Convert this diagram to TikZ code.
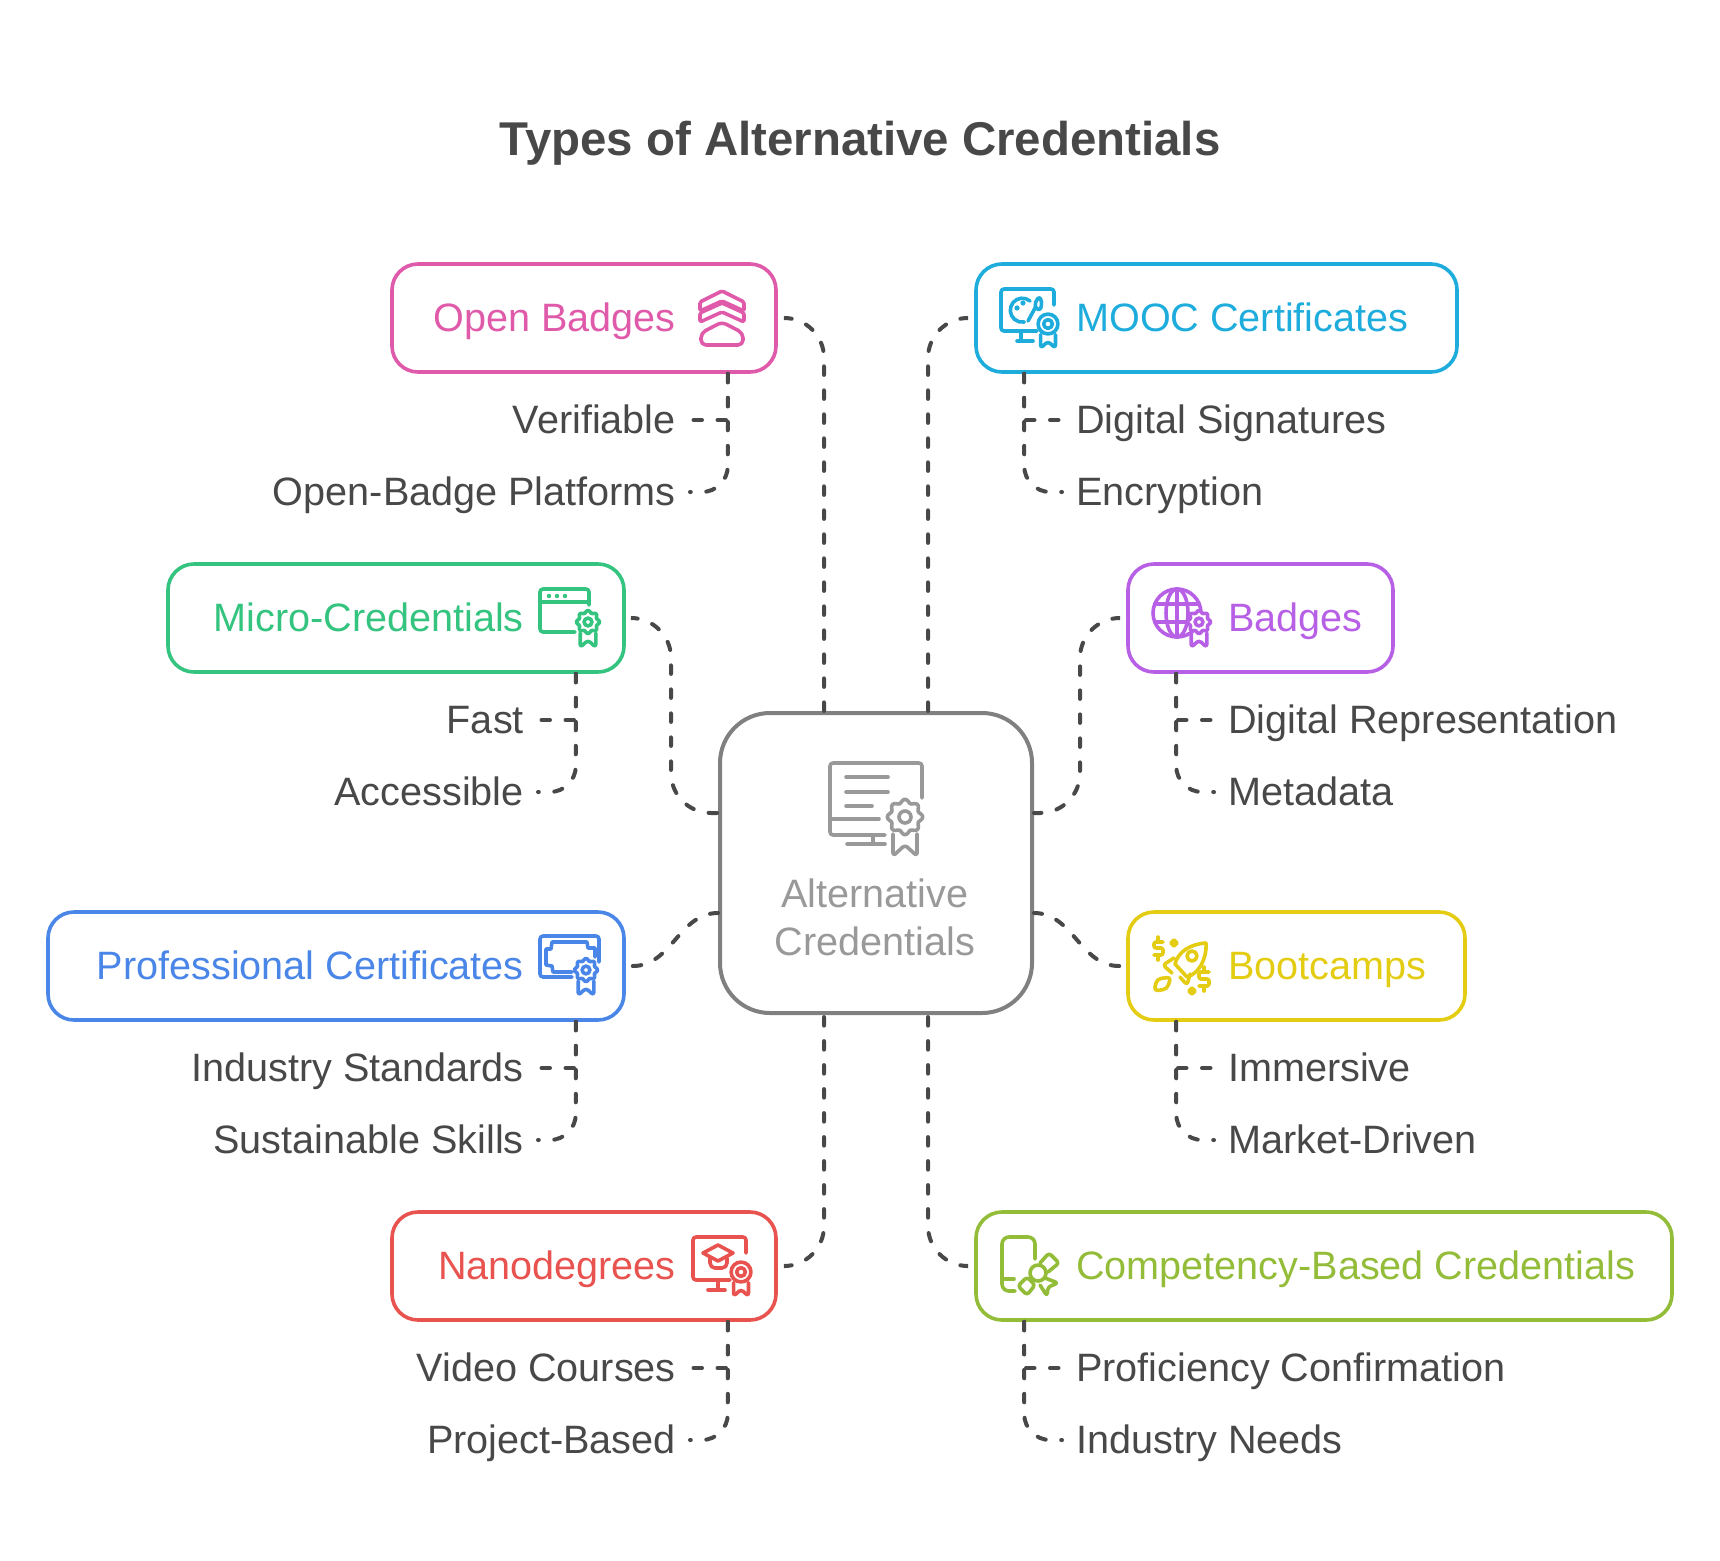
\documentclass[tikz,border=0pt]{standalone}
\usepackage{fontspec}
\usepackage{xcolor}
\setmainfont{Liberation Sans}
\definecolor{ink}{HTML}{484848}
\definecolor{hubgrey}{HTML}{808080}
\definecolor{hubtext}{HTML}{999999}
\definecolor{cpink}{HTML}{E05AAA}
\definecolor{csky}{HTML}{1EACDC}
\definecolor{cgreen}{HTML}{35C480}
\definecolor{cviolet}{HTML}{B760E6}
\definecolor{cblue}{HTML}{4A86E8}
\definecolor{cyellow}{HTML}{E3CC12}
\definecolor{cred}{HTML}{E8524F}
\definecolor{colive}{HTML}{93BC38}
\tikzset{
  typebox/.style={draw=#1,line width=3.6pt,rounded corners=26pt,minimum height=108pt},
  boxtext/.style={text=#1,inner sep=0pt,text height=26pt,text depth=0pt,font=\fontsize{39.6}{46}\selectfont},
  leaf/.style={text=ink,inner sep=0pt,text height=26pt,text depth=0pt,font=\fontsize{39.6}{46}\selectfont},
  link/.style={draw=ink,line width=4pt,line cap=round,dash pattern=on 8.5pt off 15.5pt},
  ikon/.style={line width=3.6pt,line cap=round,line join=round,rounded corners=3pt,color=#1},
  medal/.pic={
    \draw[fill=white,sharp corners] plot[domain=0:355,samples=72,smooth cycle]
      ({(16+1.7*cos(8*\x))*cos(\x)},{(16+1.7*cos(8*\x))*sin(\x)});
    \draw (0,0) circle (6);
    \draw (-12,17) -- (-12,39) -- (0,28) -- (12,39) -- (12,17);
  },
  ringmedal/.pic={
    \draw[fill=white] (0,0) circle (16);
    \draw (0,0) circle (7);
    \draw (-12,17) -- (-12,39) -- (0,28) -- (12,39) -- (12,17);
  }
}
\begin{document}
\begin{tikzpicture}[x=1pt,y=-1pt]
  \useasboundingbox (0,0) rectangle (1720,1560);

  \node[text=ink,font=\fontsize{47.4}{56}\bfseries\selectfont,inner sep=0pt] (title) at (860,143) {Types of Alternative Credentials};

  \node[draw=hubgrey,line width=4pt,rounded corners=50pt,minimum width=312pt,minimum height=300pt] (hub) at (876,863) {};
  \node[text=hubtext,align=center,inner sep=0pt,font=\fontsize{39.6}{48}\selectfont] (hubtxt) at (875,917) {Alternative\\Credentials};

  \node[typebox=cpink,minimum width=384pt] (openb) at (584,318) {};
  \node[typebox=csky,minimum width=481pt] (mooc) at (1216.5,318) {};
  \node[typebox=cgreen,minimum width=456pt] (micro) at (396,618) {};
  \node[typebox=cviolet,minimum width=265pt] (badges) at (1260.5,618) {};
  \node[typebox=cblue,minimum width=576pt] (profc) at (336,966) {};
  \node[typebox=cyellow,minimum width=337pt] (bootc) at (1296.5,966) {};
  \node[typebox=cred,minimum width=384pt] (nanod) at (584,1266) {};
  \node[typebox=colive,minimum width=696pt] (compet) at (1324,1266) {};

  \node[boxtext=cpink,anchor=east] (openbtxt) at (676,318) {Open Badges};
  \node[boxtext=csky,anchor=west] (mooctxt) at (1076,318) {MOOC Certificates};
  \node[boxtext=cgreen,anchor=east] (microtxt) at (524,618) {Micro-Credentials};
  \node[boxtext=cviolet,anchor=west] (badgestxt) at (1228,618) {Badges};
  \node[boxtext=cblue,anchor=east] (profctxt) at (524,966) {Professional Certificates};
  \node[boxtext=cyellow,anchor=west] (bootctxt) at (1228,966) {Bootcamps};
  \node[boxtext=cred,anchor=east] (nanodtxt) at (676,1266) {Nanodegrees};
  \node[boxtext=colive,anchor=west] (compettxt) at (1076,1266) {Competency-Based Credentials};

  \node[leaf,anchor=east] (verif) at (676,420) {Verifiable};
  \node[leaf,anchor=east] (oplat) at (676,492) {Open-Badge Platforms};
  \node[leaf,anchor=west] (digsig) at (1076,420) {Digital Signatures};
  \node[leaf,anchor=west] (encry) at (1076,492) {Encryption};
  \node[leaf,anchor=east] (fast) at (524,720) {Fast};
  \node[leaf,anchor=east] (access) at (524,792) {Accessible};
  \node[leaf,anchor=west] (digrep) at (1228,720) {Digital Representation};
  \node[leaf,anchor=west] (meta) at (1228,792) {Metadata};
  \node[leaf,anchor=east] (indstd) at (524,1068) {Industry Standards};
  \node[leaf,anchor=east] (sust) at (524,1140) {Sustainable Skills};
  \node[leaf,anchor=west] (immer) at (1228,1068) {Immersive};
  \node[leaf,anchor=west] (market) at (1228,1140) {Market-Driven};
  \node[leaf,anchor=east] (video) at (676,1368) {Video Courses};
  \node[leaf,anchor=east] (projb) at (676,1440) {Project-Based};
  \node[leaf,anchor=west] (profi) at (1076,1368) {Proficiency Confirmation};
  \node[leaf,anchor=west] (indneed) at (1076,1440) {Industry Needs};

  % ends on the hub
  \coordinate (hubnw) at ([xshift=-52pt]hub.north);
  \coordinate (hubne) at ([xshift=52pt]hub.north);
  \coordinate (hubsw) at ([xshift=-52pt]hub.south);
  \coordinate (hubse) at ([xshift=52pt]hub.south);
  \coordinate (hubwa) at ([yshift=50pt]hub.west);
  \coordinate (hubwb) at ([yshift=-50pt]hub.west);
  \coordinate (hubea) at ([yshift=50pt]hub.east);
  \coordinate (hubeb) at ([yshift=-50pt]hub.east);
  \coordinate (bendw) at (671,813);
  \coordinate (bende) at (1080,813);

  \foreach \from/\to in {openb/hubnw,nanod/hubsw}
    \draw[link,rounded corners=40pt] ([xshift=7pt]\from.east) -| (\to);
  \foreach \from/\to in {mooc/hubne,compet/hubse}
    \draw[link,rounded corners=40pt] ([xshift=-7pt]\from.west) -| (\to);
  \draw[link,rounded corners=40pt] ([xshift=7pt]micro.east) -| (bendw) -- (hubwa);
  \draw[link,rounded corners=40pt] ([xshift=-7pt]badges.west) -| (bende) -- (hubea);
  \draw[link] ([xshift=7pt]profc.east) to[out=0,in=180] (hubwb);
  \draw[link] ([xshift=-7pt]bootc.west) to[out=180,in=0] (hubeb);

  \foreach \from/\lone/\ltwo in {openb/verif/oplat,micro/fast/access,profc/indstd/sust,nanod/video/projb} {
    \draw[link] ([xshift=-50pt]\from.south east) |- ([xshift=14pt]\lone.east);
    \draw[link,rounded corners=26pt] ([xshift=-50pt]\from.south east) |- ([xshift=14pt]\ltwo.east);
  }
  \foreach \from/\lone/\ltwo in {mooc/digsig/encry,badges/digrep/meta,bootc/immer/market,compet/profi/indneed} {
    \draw[link] ([xshift=50pt]\from.south west) |- ([xshift=-14pt]\lone.west);
    \draw[link,rounded corners=26pt] ([xshift=50pt]\from.south west) |- ([xshift=-14pt]\ltwo.west);
  }

  % hub icon
  \begin{scope}[ikon=hubtext]
    \draw (922,798) -- (922,763) -- (830,763) -- (830,835) -- (885,835);
    \draw (830,819) -- (879,819);
    \draw (846,777) -- (888,777) (846,792) -- (888,792) (846,806) -- (872,806);
    \draw (873,835) -- (873,844) (847,844) -- (885,844);
    \pic at (905,817) {medal};
  \end{scope}

  % open badges
  \begin{scope}[ikon=cpink]
    \draw[rounded corners=1.5pt] (700,302) -- (722,291) -- (744,302) -- (744,311) -- (722,301) -- (700,311) -- cycle;
    \draw[rounded corners=1.5pt] (700,313) -- (722,303) -- (744,313) -- (744,322) -- (722,312) -- (700,322) -- cycle;
    \draw[rounded corners=5pt] (701,333) -- (722,322) -- (743,333) -- (743,345) -- (701,345) -- cycle;
  \end{scope}

  % mooc
  \begin{scope}[ikon=csky]
    \draw (1054,305) -- (1054,289) -- (1001,289) -- (1001,331) -- (1037,331);
    \draw (1021,331) -- (1021,341) (1017,341) -- (1033,341);
    \draw[sharp corners] (1030,301) arc (-50:-280:12);
    \fill (1017,308) circle (2.6) (1023,303) circle (2.6);
    \draw (1028,321) -- (1035,308);
    \draw[rounded corners=2pt,fill=white] (1035,308) -- (1036,300) -- (1040,297) -- (1042,304) -- (1040,310) -- cycle;
    \pic[scale=.62] at (1048,324) {ringmedal};
  \end{scope}

  % micro
  \begin{scope}[ikon=cgreen]
    \draw (589,605) -- (589,589) -- (540,589) -- (540,632) -- (575,632);
    \draw (540,602) -- (589,602);
    \fill (549,596) circle (2.2) (557,596) circle (2.2) (565,596) circle (2.2);
    \pic[scale=.65] at (588,622) {medal};
  \end{scope}

  % badges
  \begin{scope}[ikon=cviolet]
    \draw[sharp corners] (1177,613) circle (24);
    \draw[sharp corners] (1177,613) ellipse (11 and 24);
    \draw (1155,604) -- (1199,604) (1155,622) -- (1199,622) (1177,589) -- (1177,637);
    \pic[scale=.65] at (1199,622) {medal};
  \end{scope}

  % professional
  \begin{scope}[ikon=cblue]
    \draw (599,962) -- (599,936) -- (540,936) -- (540,977) -- (572,977);
    \draw[sharp corners] (572,972) -- (553,972) -- (552,966) -- (546,965) -- (546,949) -- (551,949) -- (552,942) -- (587,942) -- (588,948) -- (595,948) -- (595,957);
    \pic[scale=.65] at (586,970) {medal};
  \end{scope}

  % bootcamps
  \begin{scope}[ikon=cyellow]
    \draw[sharp corners] (1206,943) .. controls (1190,944) and (1178,952) .. (1175,964) -- (1187,977) .. controls (1198,974) and (1207,960) .. (1206,943);
    \draw[sharp corners] (1192,956) circle (5);
    \draw (1174,958) -- (1163,965) -- (1172,973);
    \draw (1190,974) -- (1187,985) -- (1180,977);
    \draw[rounded corners=4pt] (1171,977) -- (1157,979) -- (1154,991) -- (1167,989) -- cycle;
    \draw[rounded corners=2pt] (1163,942) -- (1154,942) -- (1154,948) -- (1163,948) -- (1163,955) -- (1154,955);
    \draw (1158,937) -- (1158,940) (1158,957) -- (1158,960);
    \draw[rounded corners=2pt] (1209,972) -- (1199,972) -- (1199,979) -- (1209,979) -- (1209,986) -- (1199,986);
    \draw (1204,967) -- (1204,970) (1204,988) -- (1204,991);
    \draw[sharp corners,fill] (1174,940) -- (1177,943) -- (1174,946) -- (1171,943) -- cycle;
    \draw[sharp corners,fill] (1192,988) -- (1195,991) -- (1192,994) -- (1189,991) -- cycle;
  \end{scope}

  % nanodegrees
  \begin{scope}[ikon=cred]
    \draw (746,1253) -- (746,1237) -- (693,1237) -- (693,1280) -- (730,1280);
    \draw (718,1280) -- (718,1290) (708,1290) -- (725,1290);
    \draw[sharp corners] (718,1245) -- (733,1253) -- (718,1261) -- (703,1253) -- cycle;
    \draw[rounded corners=5pt] (710,1258) -- (710,1268) -- (727,1268) -- (727,1258);
    \pic[scale=.62] at (741,1272) {ringmedal};
  \end{scope}

  % competency
  \begin{scope}[ikon=colive]
    \draw[rounded corners=7pt] (1035,1259) -- (1035,1237) -- (1002,1237) -- (1002,1291) -- (1015,1291);
    \draw (1002,1279) -- (1014,1279);
    \draw (1038,1273) circle (8);
    \draw (1040,1263) -- (1049,1253) -- (1059,1263) -- (1048,1272);
    \draw (1027,1277) -- (1035,1285) -- (1027,1295) -- (1018,1286) -- cycle;
    \draw (1045,1278) -- (1058,1283) -- (1048,1287) -- (1047,1296) -- (1040,1285);
  \end{scope}
\end{tikzpicture}
\end{document}
